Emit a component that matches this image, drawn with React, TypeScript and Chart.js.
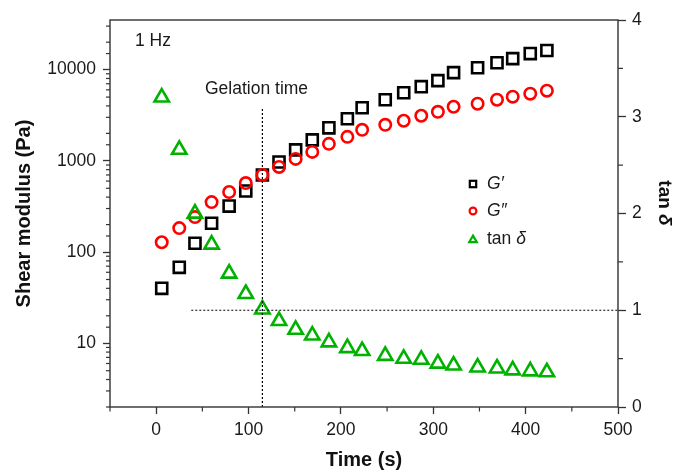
import React, { useEffect, useRef } from 'react';
import { Chart, registerables } from 'chart.js';

Chart.register(...registerables);

// ---- data ----
const timeS = [6, 25, 42, 60, 79, 97, 115, 133, 151, 169, 187, 207, 223, 248, 268, 287, 305, 322, 348, 369, 386, 405, 423];
const gPrime = [40, 68, 125, 207, 319, 467, 700, 972, 1318, 1698, 2300, 2890, 3820, 4680, 5580, 6500, 7570, 9270, 10500, 11900, 13200, 15000, 16200];
const gDoublePrime = [128, 183, 242, 353, 455, 571, 700, 857, 1050, 1253, 1535, 1832, 2188, 2483, 2750, 3120, 3450, 3917, 4227, 4677, 5047, 5445, 5875];
const tanDelta = [3.2, 2.66, 2.0, 1.68, 1.38, 1.17, 1.01, 0.89, 0.8, 0.74, 0.67, 0.61, 0.58, 0.53, 0.5, 0.49, 0.45, 0.43, 0.41, 0.4, 0.38, 0.37, 0.36];

// reference lines
const gelationTime = 115;
const gelLineTop = 3800;
const tanRef = 1;
const tanRefStart = 38;

// axes
const xRange = [-50, 500];
const modulusRange = [2, 35000];
const tanRange = [0, 4];

const FONT = "'Liberation Sans', Arial, Helvetica, sans-serif";
const AX = '#333333';
const TXT = '#1a1a1a';
const GREEN = '#00b200';
const RED = '#ff0000';

const isMajorLog = (v: number) => {
  const l = Math.log10(v);
  return Math.abs(l - Math.round(l)) < 1e-6;
};
const isMajorX = (v: number) => Math.abs(v % 100) < 1e-6;
const isMajorY1 = (v: number) => Math.abs(v - Math.round(v)) < 1e-6;

export default function App() {
  const ref = useRef<HTMLCanvasElement>(null);

  useEffect(() => {
    document.body.style.margin = '0';
    const canvas = ref.current!;
    Chart.defaults.font.family = FONT;
    Chart.defaults.color = TXT;

    const frame = {
      id: 'frame',
      afterDraw(chart: any) {
        const { ctx, chartArea: a } = chart;
        ctx.save();
        ctx.strokeStyle = AX;
        ctx.lineWidth = 1.4;
        ctx.strokeRect(a.left, a.top, a.right - a.left, a.bottom - a.top);

        // minor ticks
        ctx.lineWidth = 1.2;
        const xs = chart.scales.x;
        xs.ticks.forEach((t: any) => {
          if (isMajorX(t.value)) return;
          const px = xs.getPixelForValue(t.value);
          ctx.beginPath();
          ctx.moveTo(px, a.bottom);
          ctx.lineTo(px, a.bottom + 4.5);
          ctx.stroke();
        });
        const ys = chart.scales.y;
        ys.ticks.forEach((t: any) => {
          if (isMajorLog(t.value)) return;
          if (t.value >= modulusRange[1] * 0.999) return;
          const py = ys.getPixelForValue(t.value);
          ctx.beginPath();
          ctx.moveTo(a.left, py);
          ctx.lineTo(a.left - 4, py);
          ctx.stroke();
        });
        const y1 = chart.scales.y1;
        y1.ticks.forEach((t: any) => {
          if (isMajorY1(t.value)) return;
          const py = y1.getPixelForValue(t.value);
          ctx.beginPath();
          ctx.moveTo(a.right, py);
          ctx.lineTo(a.right + 5, py);
          ctx.stroke();
        });
        ctx.restore();
      },
    };

    const texts = {
      id: 'texts',
      afterDraw(chart: any) {
        const { ctx, chartArea: a } = chart;
        ctx.save();
        ctx.fillStyle = TXT;
        ctx.textBaseline = 'middle';
        ctx.textAlign = 'left';
        ctx.font = `17.5px ${FONT}`;
        ctx.fillText('1 Hz', a.left + 25, a.top + 21);
        ctx.fillText('Gelation time', a.left + 95, a.top + 69);

        // legend
        const lx = 473;
        const tx = 487;
        const rows = [184, 211, 239];
        ctx.lineWidth = 2.2;
        // square
        ctx.strokeStyle = '#000';
        ctx.strokeRect(lx - 3.2, rows[0] - 3.2, 6.4, 6.4);
        // circle
        ctx.strokeStyle = RED;
        ctx.beginPath();
        ctx.arc(lx, rows[1], 3.4, 0, Math.PI * 2);
        ctx.stroke();
        // triangle
        ctx.strokeStyle = GREEN;
        ctx.beginPath();
        const r = 4.4;
        const cy = rows[2] + 1;
        for (let i = 0; i < 3; i++) {
          const ang = (i * 2 * Math.PI) / 3;
          const px = lx + Math.sin(ang) * r;
          const py = cy - Math.cos(ang) * r;
          if (i === 0) ctx.moveTo(px, py);
          else ctx.lineTo(px, py);
        }
        ctx.closePath();
        ctx.stroke();

        ctx.fillStyle = TXT;
        ctx.font = `italic 17.5px ${FONT}`;
        ctx.fillText('G\u2032', tx, rows[0]);
        ctx.fillText('G\u2033', tx, rows[1]);
        ctx.font = `17.5px ${FONT}`;
        ctx.fillText('tan ', tx, rows[2]);
        const w = ctx.measureText('tan ').width;
        ctx.font = `italic 17.5px ${FONT}`;
        ctx.fillText('\u03b4', tx + w, rows[2]);

        // right axis title
        ctx.translate(664, 203);
        ctx.rotate(Math.PI / 2);
        ctx.font = `bold 19px ${FONT}`;
        const w1 = ctx.measureText('tan ').width;
        ctx.font = `bold italic 19px ${FONT}`;
        const w2 = ctx.measureText('\u03b4').width;
        const start = -(w1 + w2) / 2;
        ctx.font = `bold 19px ${FONT}`;
        ctx.fillStyle = '#111';
        ctx.fillText('tan ', start, 0);
        ctx.font = `bold italic 19px ${FONT}`;
        ctx.fillText('\u03b4', start + w1, 0);
        ctx.restore();
      },
    };

    const chart = new Chart(canvas, {
      type: 'scatter',
      data: {
        datasets: [
          {
            label: 'gel',
            data: [
              { x: gelationTime, y: modulusRange[0] },
              { x: gelationTime, y: gelLineTop },
            ],
            xAxisID: 'x',
            yAxisID: 'y',
            showLine: true,
            borderColor: '#000',
            borderWidth: 1.2,
            borderDash: [2, 2],
            pointRadius: 0,
          },
          {
            label: 'ref',
            data: [
              { x: tanRefStart, y: tanRef },
              { x: xRange[1], y: tanRef },
            ],
            xAxisID: 'x',
            yAxisID: 'y1',
            showLine: true,
            borderColor: '#000',
            borderWidth: 1.2,
            borderDash: [2, 2],
            pointRadius: 0,
          },
          {
            label: 'tan \u03b4',
            data: timeS.map((t, i) => ({ x: t, y: tanDelta[i] })),
            xAxisID: 'x',
            yAxisID: 'y1',
            showLine: false,
            pointStyle: 'triangle',
            pointRadius: 8.3,
            pointBorderWidth: 2.6,
            pointBorderColor: GREEN,
            pointBackgroundColor: 'rgba(0,0,0,0)',
          },
          {
            label: 'G\u2033',
            data: timeS.map((t, i) => ({ x: t, y: gDoublePrime[i] })),
            xAxisID: 'x',
            yAxisID: 'y',
            showLine: false,
            pointStyle: 'circle',
            pointRadius: 5.7,
            pointBorderWidth: 2.6,
            pointBorderColor: RED,
            pointBackgroundColor: 'rgba(0,0,0,0)',
          },
          {
            label: 'G\u2032',
            data: timeS.map((t, i) => ({ x: t, y: gPrime[i] })),
            xAxisID: 'x',
            yAxisID: 'y',
            showLine: false,
            pointStyle: 'rect',
            pointRadius: 7.8,
            pointBorderWidth: 2.6,
            pointBorderColor: '#000000',
            pointBackgroundColor: 'rgba(0,0,0,0)',
          },
        ],
      },
      options: {
        animation: false,
        responsive: true,
        maintainAspectRatio: false,
        events: [],
        layout: { padding: { top: 20, left: 0, right: 0, bottom: 0 } },
        plugins: { legend: { display: false }, tooltip: { enabled: false } },
        scales: {
          x: {
            type: 'linear',
            position: 'bottom',
            min: xRange[0],
            max: xRange[1],
            afterFit: (s: any) => {
              s.height = 64;
            },
            ticks: {
              stepSize: 50,
              autoSkip: false,
              maxRotation: 0,
              padding: 6,
              color: TXT,
              font: { size: 17.5 },
              callback: (v: any) => (isMajorX(Number(v)) ? String(v) : ''),
            },
            grid: {
              drawOnChartArea: false,
              tickLength: 7,
              tickWidth: 1.3,
              tickColor: (c: any) => (isMajorX(c.tick.value) ? AX : 'rgba(0,0,0,0)'),
            },
            border: { display: false },
            title: {
              display: true,
              text: 'Time (s)',
              color: '#111',
              font: { size: 20, weight: 'bold', lineHeight: 1.1 },
              padding: { top: 0, bottom: 0 },
            },
          },
          y: {
            type: 'logarithmic',
            position: 'left',
            min: modulusRange[0],
            max: modulusRange[1],
            afterFit: (s: any) => {
              s.width = 110;
            },
            ticks: {
              autoSkip: false,
              padding: 7,
              color: TXT,
              font: { size: 17.5 },
              callback: (v: any) => (isMajorLog(Number(v)) ? String(v) : ''),
            },
            grid: {
              drawOnChartArea: false,
              tickLength: 7,
              tickWidth: 1.3,
              tickColor: (c: any) => (isMajorLog(c.tick.value) ? AX : 'rgba(0,0,0,0)'),
            },
            border: { display: false },
            title: {
              display: true,
              text: 'Shear modulus (Pa)',
              color: '#111',
              font: { size: 20, weight: 'bold', lineHeight: 1.2 },
              padding: { top: 12, bottom: 0 },
            },
          },
          y1: {
            type: 'linear',
            position: 'right',
            min: tanRange[0],
            max: tanRange[1],
            afterFit: (s: any) => {
              s.width = 58;
            },
            ticks: {
              stepSize: 0.5,
              autoSkip: false,
              padding: 6,
              color: TXT,
              font: { size: 17.5 },
              callback: (v: any) => (isMajorY1(Number(v)) ? String(v) : ''),
            },
            grid: {
              drawOnChartArea: false,
              tickLength: 8,
              tickWidth: 1.3,
              tickColor: (c: any) => (isMajorY1(c.tick.value) ? AX : 'rgba(0,0,0,0)'),
            },
            border: { display: false },
            title: { display: false },
          },
        },
      },
      plugins: [frame, texts],
    } as any);

    return () => chart.destroy();
  }, []);

  return (
    <div style={{ position: 'relative', width: 676, height: 471 }}>
      <canvas ref={ref} />
    </div>
  );
}
